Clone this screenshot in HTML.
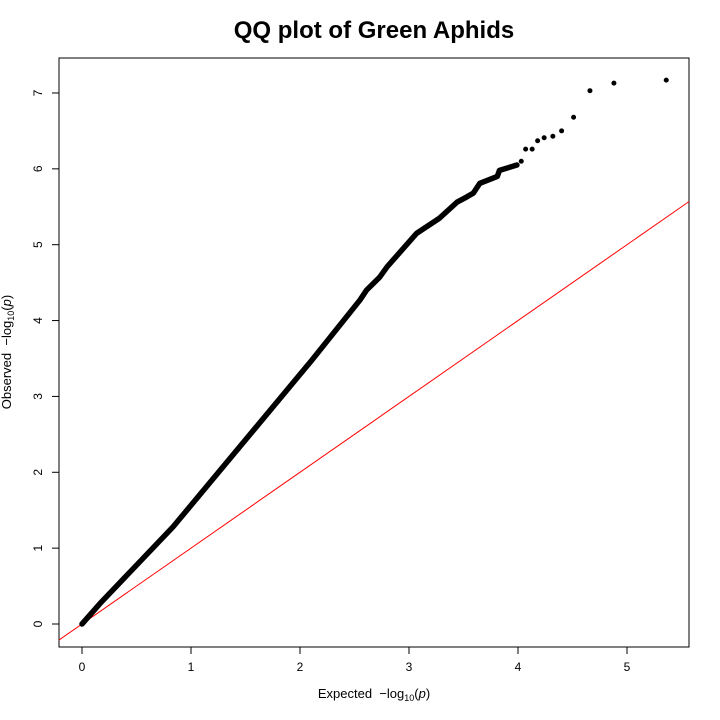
<!DOCTYPE html>
<html><head><meta charset="utf-8"><style>
html,body{margin:0;padding:0;background:#fff;}
svg{display:block;font-family:"Liberation Sans",sans-serif;}
</style></head><body>
<svg id="chart" width="720" height="720" viewBox="0 0 720 720">
<text x="374" y="38" text-anchor="middle" font-size="24" font-weight="bold">QQ plot of Green Aphids</text>
<rect x="59" y="58" width="630" height="589" fill="none" stroke="#000" stroke-width="1"/>
<defs><clipPath id="clip"><rect x="59" y="58" width="630" height="589"/></clipPath></defs>
<g id="xaxis"></g>
<g id="yaxis"></g>
<g id="marks" clip-path="url(#clip)"></g>
<text x="374" y="698" text-anchor="middle" font-size="13">Expected &#160;&#8722;log<tspan font-size="9" dy="3">10</tspan><tspan dy="-3">(</tspan><tspan font-style="italic">p</tspan>)</text>
<text transform="translate(11,352) rotate(-90)" text-anchor="middle" font-size="13">Observed &#160;&#8722;log<tspan font-size="9" dy="3">10</tspan><tspan dy="-3">(</tspan><tspan font-style="italic">p</tspan>)</text>
</svg>
<script>
const xTicks=[0,1,2,3,4,5];
const yTicks=[0,1,2,3,4,5,6,7];
const curveExpected=[0,0.165,0.835,2.11,2.55,2.61,2.73,2.8,3.07,3.28,3.44,3.53,3.59,3.65,3.81,3.83,3.99];
const curveObserved=[0,0.27,1.28,3.48,4.27,4.40,4.57,4.71,5.15,5.35,5.56,5.63,5.68,5.81,5.90,5.98,6.05];
const tailExpected=[4.03,4.07,4.13,4.18,4.24,4.32,4.40,4.51,4.66,4.88,5.36];
const tailObserved=[6.1,6.26,6.26,6.37,6.41,6.43,6.5,6.68,7.03,7.13,7.17];
const NS="http://www.w3.org/2000/svg";
const sx=v=>82+v*109, sy=v=>624-v*75.86;
function mk(t,a,p){const e=document.createElementNS(NS,t);for(const k in a)e.setAttribute(k,a[k]);p.appendChild(e);return e;}
const xa=document.getElementById('xaxis'), ya=document.getElementById('yaxis'), m=document.getElementById('marks');
mk('line',{x1:sx(xTicks[0]),x2:sx(xTicks[xTicks.length-1]),y1:647,y2:647,stroke:'#000'},xa);
xTicks.forEach(t=>{mk('line',{x1:sx(t),x2:sx(t),y1:647,y2:654,stroke:'#000'},xa);
const tx=mk('text',{x:sx(t),y:671,'text-anchor':'middle','font-size':12},xa);tx.textContent=t;

});
mk('line',{x1:59,x2:59,y1:sy(yTicks[0]),y2:sy(yTicks[yTicks.length-1]),stroke:'#000'},ya);
yTicks.forEach(t=>{mk('line',{x1:52,x2:59,y1:sy(t),y2:sy(t),stroke:'#000'},ya);
const tx=mk('text',{transform:`translate(42,${sy(t)}) rotate(-90)`,'text-anchor':'middle','font-size':12},ya);tx.textContent=t;

});
const rl=mk('line',{x1:sx(-1),y1:sy(-1),x2:sx(7),y2:sy(7),stroke:'#ff0000','stroke-width':1},m);


let d='';curveExpected.forEach((e,i)=>{d+=(i?'L':'M')+sx(e)+','+sy(curveObserved[i]);});
const p=mk('path',{d:d,fill:'none',stroke:'#000','stroke-width':5.5,'stroke-linecap':'round','stroke-linejoin':'round'},m);


tailExpected.forEach((e,i)=>{const c=mk('circle',{cx:sx(e),cy:sy(tailObserved[i]),r:2.5,fill:'#000'},m);

});
</script>
</body></html>
